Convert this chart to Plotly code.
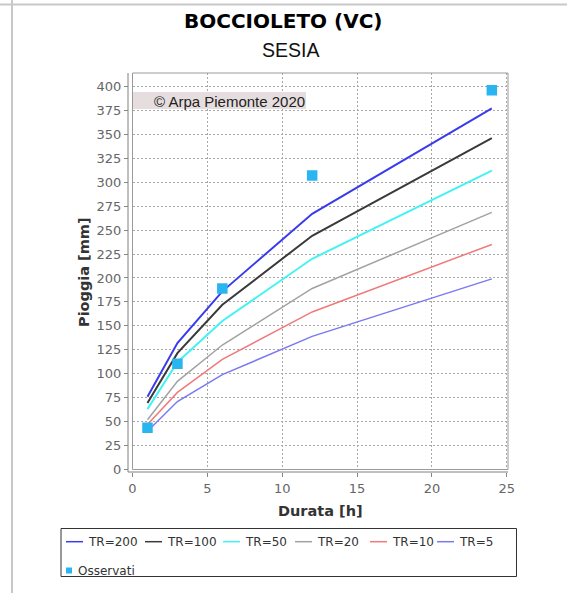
import plotly.graph_objects as go

# ---- data -----------------------------------------------------------------
durations = [1, 3, 6, 12, 24]                     # Durata [h]
tr_labels = ["TR=200", "TR=100", "TR=50", "TR=20", "TR=10", "TR=5"]
tr200 = [76, 132, 186, 267, 377]
tr100 = [69.5, 121.5, 172, 244, 346]
tr50 = [63, 112, 155, 220, 312]
tr20 = [52, 92, 130, 189, 268.5]
tr10 = [47, 80.5, 115, 164.5, 235]
tr5 = [40, 71, 99, 139, 199]
obs_durations = [1, 3, 6, 12, 24]
observed = [43.5, 110.5, 189, 307, 396]
x_ticks = [0, 5, 10, 15, 20, 25]
y_ticks = list(range(0, 401, 25))

series = [tr200, tr100, tr50, tr20, tr10, tr5]

# ---- styles ---------------------------------------------------------------
line_colors = ["#3b3bee", "#3a3a3a", "#45f2f2", "#a2a2a2", "#f07a7a", "#7a7af0"]
line_widths = [2, 2, 2, 1.5, 1.5, 1.5]
obs_color = "#29b6f0"

W, H = 567, 593
ML, MR, MT, MB = 128, 59, 73, 121
PW, PH = W - ML - MR, H - MT - MB


def px(x):
    return (x - ML) / PW


def py(y):
    return (H - MB - y) / PH


fig = go.Figure()
for name, vals, col, wd in zip(tr_labels, series, line_colors, line_widths):
    fig.add_trace(go.Scatter(x=durations, y=vals, mode="lines", name=name,
                             line=dict(color=col, width=wd)))
fig.add_trace(go.Scatter(x=obs_durations, y=observed, mode="markers", name="Osservati",
                         marker=dict(symbol="square", size=10.5, color=obs_color)))

tick_font = dict(family="DejaVu Sans", size=13, color="#666666")
grid = dict(showgrid=True, gridcolor="#a8a8a8", gridwidth=1, griddash="2px,2px",
            zeroline=False, showline=False, ticks="outside", ticklen=4,
            tickcolor="#888888", tickfont=tick_font, anchor="free", position=0)

fig.update_layout(
    width=W, height=H, margin=dict(l=ML, r=MR, t=MT, b=MB),
    paper_bgcolor="white", plot_bgcolor="white", showlegend=False,
    xaxis=dict(range=[0, 25.08], domain=[px(132.5), 1], tickvals=x_ticks, **grid),
    yaxis=dict(range=[0, 414], domain=[py(469.5), 1], tickvals=y_ticks, **grid),
)

shapes = [
    # page frame
    dict(type="line", xref="paper", yref="paper", x0=px(0), x1=px(W), y0=py(4.5), y1=py(4.5),
         line=dict(color="#c8c8c8", width=2)),
    dict(type="line", xref="paper", yref="paper", x0=px(12), x1=px(12), y0=py(0), y1=py(H),
         line=dict(color="#c8c8c8", width=2)),
    # plot border
    dict(type="rect", xref="x domain", yref="y domain", x0=0, x1=1, y0=0, y1=1,
         line=dict(color="#9a9a9a", width=1)),
    # offset axis lines
    dict(type="line", xref="paper", yref="paper", x0=0, x1=1, y0=0, y1=0,
         line=dict(color="#808080", width=1)),
    dict(type="line", xref="paper", yref="paper", x0=0, x1=0, y0=0, y1=1,
         line=dict(color="#808080", width=1)),
    # copyright box
    dict(type="rect", xref="paper", yref="paper", x0=px(133), x1=px(306), y0=py(109), y1=py(92),
         fillcolor="#e6dede", line=dict(width=0), layer="above"),
    # legend box
    dict(type="rect", xref="paper", yref="paper", x0=px(61), x1=px(516.5), y0=py(576.5), y1=py(528.5),
         line=dict(color="#333333", width=1)),
]

annotations = [
    dict(text="<b>BOCCIOLETO (VC)</b>", x=px(283), y=py(21.5), xref="paper", yref="paper",
         showarrow=False, xanchor="center", yanchor="middle",
         font=dict(family="DejaVu Sans", size=20, color="#000000")),
    dict(text="SESIA", x=px(290), y=py(50.5), xref="paper", yref="paper",
         showarrow=False, xanchor="center", yanchor="middle",
         font=dict(family="Liberation Sans", size=19.5, color="#111111")),
    dict(text="© Arpa Piemonte 2020", x=px(151.5), y=py(101), xref="paper", yref="paper",
         showarrow=False, xanchor="left", yanchor="middle",
         font=dict(family="Liberation Sans", size=15, color="#222222")),
    dict(text="<b>Durata [h]</b>", x=px(320), y=py(511), xref="paper", yref="paper",
         showarrow=False, xanchor="center", yanchor="middle",
         font=dict(family="DejaVu Sans", size=14.5, color="#333333")),
    dict(text="<b>Pioggia [mm]</b>", x=px(84), y=py(272), xref="paper", yref="paper",
         showarrow=False, xanchor="center", yanchor="middle", textangle=-90,
         font=dict(family="DejaVu Sans", size=14.5, color="#333333")),
]

# legend drawn by hand: short line samples followed by labels
legend_font = dict(family="DejaVu Sans", size=12, color="#333333")
legend_x = [66, 145, 223, 295, 370, 437]
row1_y = 541.7
for name, col, lx in zip(tr_labels, line_colors, legend_x):
    shapes.append(dict(type="line", xref="paper", yref="paper", x0=px(lx), x1=px(lx + 17),
                       y0=py(row1_y), y1=py(row1_y), line=dict(color=col, width=1.5)))
    annotations.append(dict(text=name, x=px(lx + 20), y=py(row1_y), xref="paper", yref="paper",
                            showarrow=False, xanchor="left", yanchor="middle", font=legend_font))
shapes.append(dict(type="rect", xref="paper", yref="paper", x0=px(66), x1=px(72),
                   y0=py(573.5), y1=py(567.5), fillcolor=obs_color, line=dict(width=0)))
annotations.append(dict(text="Osservati", x=px(75.5), y=py(570.7), xref="paper", yref="paper",
                        showarrow=False, xanchor="left", yanchor="middle", font=legend_font))

fig.update_layout(shapes=shapes, annotations=annotations)
fig.write_html("out.html", config={"displayModeBar": False})
